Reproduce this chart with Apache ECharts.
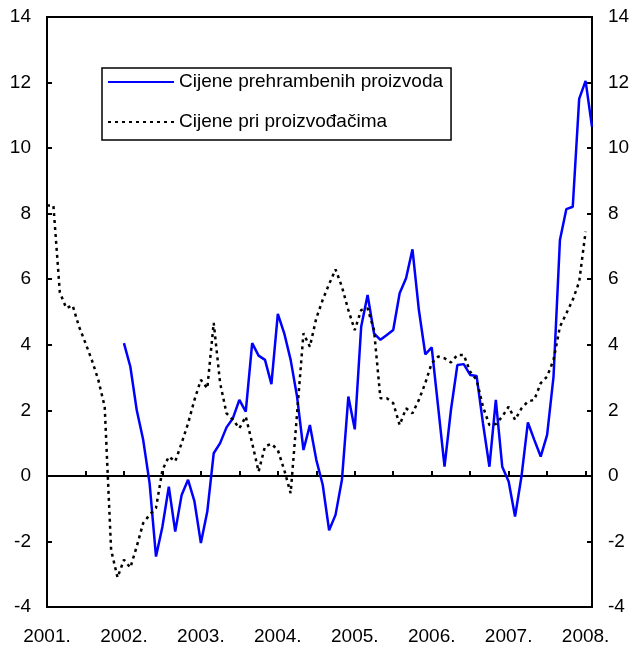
<!DOCTYPE html>
<html>
<head>
<meta charset="utf-8">
<script src="https://cdn.jsdelivr.net/npm/echarts@6/dist/echarts.min.js"></script>
<style>
  html, body { margin: 0; padding: 0; background: #fff; }
  #chart { width: 633px; height: 650px; }
</style>
</head>
<body>
<div id="chart"></div>
<script>
// monthly observations, Jan 2001 .. Feb 2008
const years = ['2001', '2002', '2003', '2004', '2005', '2006', '2007', '2008']
const months = ['01', '02', '03', '04', '05', '06', '07', '08', '09', '10', '11', '12']
const lastYearMonths = 2

const categories = []
years.forEach((y, yi) => {
  const n = yi === years.length - 1 ? lastYearMonths : 12
  for (let m = 0; m < n; m++) categories.push(y + '.' + months[m])
})

// Cijene prehrambenih proizvoda (starts Jan 2002)
const foodPrices = [
  null, null, null, null, null, null, null, null, null, null, null, null,
  4.05, 3.33, 2.0, 1.1, -0.22, -2.46, -1.55, -0.33, -1.7, -0.58, -0.12, -0.78,
  -2.05, -1.09, 0.69, 1.0, 1.48, 1.76, 2.32, 1.96, 4.05, 3.67, 3.54, 2.8,
  4.94, 4.35, 3.54, 2.42, 0.79, 1.55, 0.49, -0.27, -1.66, -1.19, -0.12, 2.42,
  1.42, 4.55, 5.52, 4.35, 4.15, 4.3, 4.45, 5.57, 6.03, 6.91, 5.06, 3.71,
  3.92, 2.11, 0.28, 2.01, 3.38, 3.41, 3.08, 3.05, 1.6, 0.28, 2.32, 0.28,
  -0.17, -1.24, -0.02, 1.63, 1.1, 0.59, 1.25, 3.03, 7.2, 8.14, 8.21, 11.5,
  12.05, 10.65
]

// Cijene pri proizvođačima (ends Jan 2008)
const producerPrices = [
  8.25, 8.25, 5.6, 5.12, 5.2, 4.55, 4.05, 3.53, 2.93, 2.11, -2.26, -3.1,
  -2.56, -2.8, -2.15, -1.44, -1.19, -0.98, 0.18, 0.59, 0.44, 1.0, 1.6, 2.32,
  2.93, 2.67, 4.67, 2.83, 1.91, 1.71, 1.45, 1.81, 1.0, 0.13, 0.9, 0.98,
  0.79, 0.18, -0.53, 1.9, 4.35, 3.94, 4.81, 5.37, 5.85, 6.3, 5.77, 5.06,
  4.45, 5.06, 5.11, 4.45, 2.37, 2.37, 2.22, 1.55, 2.06, 1.91, 2.32, 2.83,
  3.44, 3.64, 3.59, 3.46, 3.69, 3.69, 3.18, 2.93, 2.11, 1.55, 1.58, 1.81,
  2.11, 1.71, 2.06, 2.27, 2.32, 2.83, 3.03, 3.54, 4.55, 4.96, 5.37, 5.92,
  7.45
]

const seriesNames = ['Cijene prehrambenih proizvoda', 'Cijene pri proizvođačima']
const yMin = -4
const yMax = 14
const yStep = 2

const FONT = 'Liberation Sans, Arial, sans-serif'
const black = '#000'

const yAxisBase = {
  type: 'value',
  min: yMin,
  max: yMax,
  interval: yStep,
  axisLine: { show: true, onZero: false, lineStyle: { color: black, width: 2 } },
  axisTick: { show: true, inside: true, length: 5, lineStyle: { color: black, width: 2 } },
  axisLabel: { color: black, fontSize: 19, fontFamily: FONT, margin: 16 },
  splitLine: { show: false },
}

const chart = echarts.init(document.getElementById('chart'))
chart.setOption({
  animation: false,
  backgroundColor: '#fff',
  grid: {
    left: 47, right: 41, top: 17, bottom: 43,
    show: true, borderColor: black, borderWidth: 2, backgroundColor: 'transparent',
  },
  legend: {
    orient: 'vertical',
    left: 102,
    top: 68,
    itemWidth: 66,
    itemHeight: 14,
    itemGap: 20,
    padding: [4, 8, 8, 5],
    borderColor: black,
    borderWidth: 1.5,
    itemStyle: { opacity: 0 }, // hide the legend symbol, keep only the line sample
    textStyle: { color: black, fontSize: 19, fontFamily: FONT, lineHeight: 20 },
    data: seriesNames,
  },
  xAxis: [
    {
      type: 'category',
      data: categories,
      boundaryGap: false,
      position: 'bottom',
      axisLine: { show: true, onZero: false, lineStyle: { color: black, width: 2 } },
      axisTick: { show: false },
      axisLabel: {
        interval: 11,
        color: black,
        fontSize: 19,
        fontFamily: FONT,
        margin: 20,
        formatter: v => v.slice(0, 5),
      },
      splitLine: { show: false },
    },
    {
      // zero line with half-year ticks
      type: 'category',
      data: categories,
      boundaryGap: false,
      position: 'bottom',
      axisLine: { show: true, onZero: true, lineStyle: { color: black, width: 2 } },
      axisTick: { show: true, inside: true, interval: 5, length: 5, lineStyle: { color: black, width: 2 } },
      axisLabel: { show: false },
      splitLine: { show: false },
    },
  ],
  yAxis: [
    { ...yAxisBase, position: 'left' },
    { ...yAxisBase, position: 'right' },
  ],
  series: [
    {
      name: seriesNames[0],
      type: 'line',
      data: foodPrices,
      symbol: 'none',
      color: '#0000ff',
      lineStyle: { color: '#0000ff', width: 2.5 },
    },
    {
      name: seriesNames[1],
      type: 'line',
      data: producerPrices,
      symbol: 'none',
      color: black,
      lineStyle: { color: black, width: 2.5, type: [3, 4] },
    },
  ],
})
</script>
</body>
</html>
